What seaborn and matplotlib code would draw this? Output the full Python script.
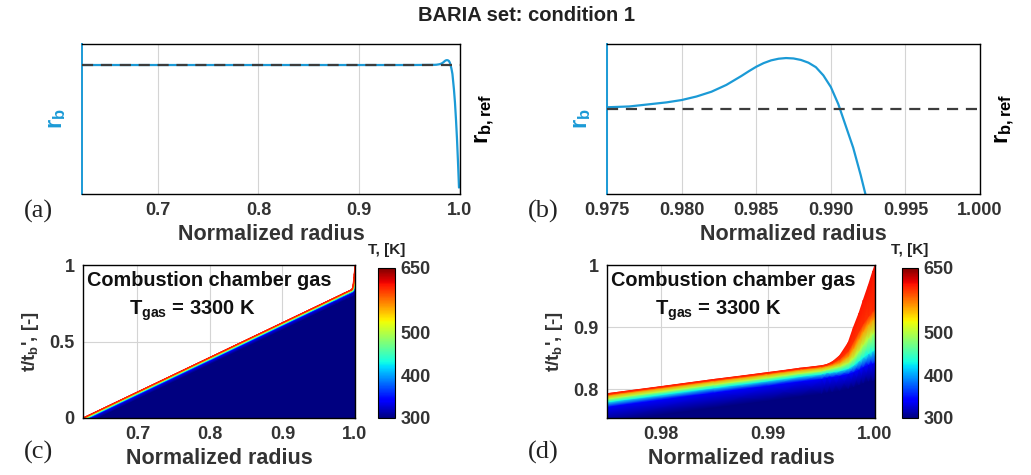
import numpy as np
import matplotlib
matplotlib.use("Agg")
import matplotlib.pyplot as plt
from matplotlib.ticker import FixedLocator, FormatStrFormatter
import seaborn as sns

sns.set_theme(style="white")
plt.rcParams["font.family"] = ["Liberation Sans", "DejaVu Sans"]
plt.rcParams["mathtext.fontset"] = "custom"
plt.rcParams["mathtext.rm"] = "Liberation Sans:bold"
plt.rcParams["mathtext.bf"] = "Liberation Sans:bold"
plt.rcParams["mathtext.it"] = "Liberation Sans:bold"

# ---- burning rate along the grain radius (normalised by the reference rate) ----
rb_ref = 1.0
rb_radius = [0.625, 0.700, 0.800, 0.900, 0.950, 0.970, 0.975, 0.9765, 0.978, 0.979,
             0.980, 0.981, 0.982, 0.983, 0.984, 0.9845, 0.985, 0.9855, 0.986, 0.9865,
             0.987, 0.9875, 0.988, 0.9885, 0.989, 0.9895, 0.990, 0.9905, 0.991, 0.9915,
             0.992, 0.9925, 0.993, 0.994, 0.995, 0.996, 0.997, 0.998, 0.999]
rb_value = [1.000, 1.000, 1.000, 1.000, 1.000, 1.001, 1.0016, 1.0022, 1.0040, 1.0052,
            1.0069, 1.0095, 1.0130, 1.0180, 1.0245, 1.0280, 1.0313, 1.0340, 1.0360, 1.0372,
            1.0377, 1.0374, 1.0363, 1.0343, 1.0310, 1.0250, 1.0165, 1.0040, 0.9880, 0.9720,
            0.9520, 0.9300, 0.890, 0.810, 0.710, 0.580, 0.430, 0.250, 0.050]

# ---- temperature field: burning surface and isotherms, time t/t_b vs radius ----
field_radius = [0.625, 0.975, 0.985, 0.990, 0.993, 0.995, 0.9955, 0.9960, 0.9967,
                0.9975, 0.9980, 0.9985, 0.9989, 0.9994, 0.9998, 1.0000]
front_t = [0.000, 0.793, 0.816, 0.827, 0.834, 0.838, 0.840, 0.844, 0.854,
           0.875, 0.900, 0.922, 0.943, 0.968, 0.990, 1.000]
surface_T = [608, 608, 608, 608, 608, 608, 608, 608, 608,
             609, 610, 610, 611, 612, 612, 612]
iso600_t = [-0.001, 0.792, 0.815, 0.826, 0.833, 0.837, 0.839, 0.842, 0.849,
            0.862, 0.878, 0.894, 0.906, 0.918, 0.926, 0.930]
iso560_t = [-0.003, 0.790, 0.813, 0.824, 0.831, 0.835, 0.837, 0.839, 0.843,
            0.853, 0.866, 0.881, 0.893, 0.905, 0.912, 0.915]
iso500_t = [-0.008, 0.785, 0.808, 0.819, 0.826, 0.830, 0.832, 0.834, 0.837,
            0.843, 0.851, 0.862, 0.872, 0.883, 0.890, 0.893]
iso430_t = [-0.013, 0.780, 0.803, 0.814, 0.821, 0.825, 0.827, 0.828, 0.830,
            0.834, 0.839, 0.846, 0.852, 0.858, 0.862, 0.864]
iso343_t = [-0.021, 0.772, 0.795, 0.806, 0.813, 0.817, 0.819, 0.820, 0.822,
            0.825, 0.828, 0.832, 0.836, 0.840, 0.842, 0.843]
iso300_t = [-0.045, 0.748, 0.771, 0.782, 0.789, 0.793, 0.795, 0.796, 0.798,
            0.801, 0.804, 0.807, 0.810, 0.813, 0.814, 0.815]
iso_levels = [300, 343, 430, 500, 560, 600]
initial_t = -0.2
T_initial = 300
T_min, T_max = 300, 650
cbar_ticks = [300, 400, 500, 650]

BLUE = "#1b9ad6"
TXT = "#333333"
W, H = 1031, 475


def box(left, top, right, bottom):
    return [left / W, 1 - bottom / H, (right - left) / W, (bottom - top) / H]


def style(ax, size=13):
    ax.tick_params(length=0, labelsize=size, colors=TXT, pad=6)
    for lab in ax.get_xticklabels() + ax.get_yticklabels():
        lab.set_fontweight("bold")
    for s in ax.spines.values():
        s.set_color("black")
        s.set_linewidth(1.0)


fig = plt.figure(figsize=(W / 100, H / 100), dpi=100)
fig.patch.set_facecolor("white")
fig.text(0.511, 0.968, "BARIA set: condition 1", ha="center", va="center",
         fontsize=14.5, fontweight="bold", color="#222222")


def rate_panel(rect, xlim, ylim, xticks, fmt, tag, tagx):
    ax = fig.add_axes(rect)
    sns.lineplot(x=rb_radius, y=rb_value, ax=ax, color=BLUE, lw=1.6,
                 sort=False, estimator=None)
    ax.set_xlim(*xlim)
    ax.set_ylim(*ylim)
    ax.xaxis.set_major_locator(FixedLocator(xticks))
    ax.xaxis.set_major_formatter(FormatStrFormatter(fmt))
    ax.set_yticks([])
    ax.grid(True, axis="x", color="#d4d4d4", lw=0.8)
    ax.set_axisbelow(True)
    style(ax)
    ax.spines["left"].set_color(BLUE)
    ax.spines["left"].set_linewidth(1.4)
    ax.set_xlabel("Normalized radius", fontsize=15.5, fontweight="bold", color=TXT,
                  labelpad=3)
    ax.set_ylabel(r"r$_\mathbf{b}$", fontsize=17, fontweight="bold", color=BLUE, labelpad=10)
    ax2 = ax.twinx()
    ax2.set_ylim(*ylim)
    ax2.axhline(rb_ref, color="#3c3c3c", ls=(0, (5, 3.5)), lw=1.6)
    ax2.set_yticks([])
    for s in ax2.spines.values():
        s.set_visible(False)
    ax2.set_ylabel(r"r$_\mathbf{b,ref}$", fontsize=17, fontweight="bold", color="black",
                   labelpad=10)
    fig.text(tagx, 1 - 211 / H, tag, family="Liberation Serif", fontsize=19,
             ha="left", va="center", color="#222222")
    return ax


rate_panel(box(82, 44, 460, 194), (0.625, 1.0), (0.0, 1.163),
           [0.7, 0.8, 0.9, 1.0], "%.1f", "(a)", 24 / W)
rate_panel(box(607, 44, 980, 194), (0.975, 1.0), (0.938, 1.048),
           [0.975, 0.980, 0.985, 0.990, 0.995, 1.000], "%.3f", "(b)", 528 / W)

# curvilinear grid: rows from the cold interior up to the burning surface
n = len(field_radius)
R = np.tile(np.asarray(field_radius, float), (8, 1))
Y = np.vstack([np.full(n, initial_t), iso300_t, iso343_t, iso430_t,
               iso500_t, iso560_t, iso600_t, front_t])
C = np.vstack([np.full(n, T_initial)] + [np.full(n, float(v)) for v in iso_levels]
              + [surface_T])


def field_panel(rect, crect, xlim, ylim, xticks, fmt, yticks, ylabels, tag, tagx, txtx):
    ax = fig.add_axes(rect)
    mesh = ax.pcolormesh(R, Y, C, shading="gouraud", cmap="jet", vmin=T_min, vmax=T_max,
                         rasterized=True)
    ax.set_xlim(*xlim)
    ax.set_ylim(*ylim)
    ax.xaxis.set_major_locator(FixedLocator(xticks))
    ax.xaxis.set_major_formatter(FormatStrFormatter(fmt))
    ax.set_yticks(yticks)
    ax.set_yticklabels(ylabels)
    ax.grid(True, color="#d4d4d4", lw=0.8)
    ax.set_axisbelow(True)
    ax.set_facecolor("white")
    style(ax)
    ax.set_xlabel("Normalized radius", fontsize=15.5, fontweight="bold", color=TXT,
                  labelpad=3)
    ax.set_ylabel(r"t/t$_\mathbf{b}$', [-]", fontsize=13.5, fontweight="bold", color=TXT,
                  labelpad=6)
    ax.text(0.015, 0.90, "Combustion chamber gas", transform=ax.transAxes,
            fontsize=14.3, fontweight="bold", color="#111111", ha="left", va="center")
    ax.text(txtx, 0.70, r"T$_\mathbf{gas}$ = 3300 K", transform=ax.transAxes,
            fontsize=14.5, fontweight="bold", color="#111111", ha="left", va="center")
    cax = fig.add_axes(crect)
    cb = fig.colorbar(mesh, cax=cax, ticks=cbar_ticks)
    cb.outline.set_edgecolor("black")
    cb.outline.set_linewidth(0.8)
    cax.tick_params(length=0, labelsize=13, colors=TXT, pad=4)
    for lab in cax.get_yticklabels():
        lab.set_fontweight("bold")
    cax.set_title("T, [K]", fontsize=11, fontweight="bold", color="#222222", pad=10)
    fig.text(tagx, 1 - 452 / H, tag, family="Liberation Serif", fontsize=19,
             ha="left", va="center", color="#222222")


field_panel(box(83, 265, 355, 418), box(378, 268, 395, 418), (0.625, 1.0), (0.0, 1.0),
            [0.7, 0.8, 0.9, 1.0], "%.1f", [0, 0.5, 1], ["0", "0.5", "1"], "(c)", 24 / W, 0.17)
field_panel(box(607, 265, 875, 418), box(902, 268, 918, 418), (0.975, 1.0), (0.754, 1.0),
            [0.98, 0.99, 1.00], "%.2f", [0.8, 0.9, 1.0], ["0.8", "0.9", "1"], "(d)",
            528 / W, 0.18)

fig.savefig("out.png", dpi=100, facecolor="white")
